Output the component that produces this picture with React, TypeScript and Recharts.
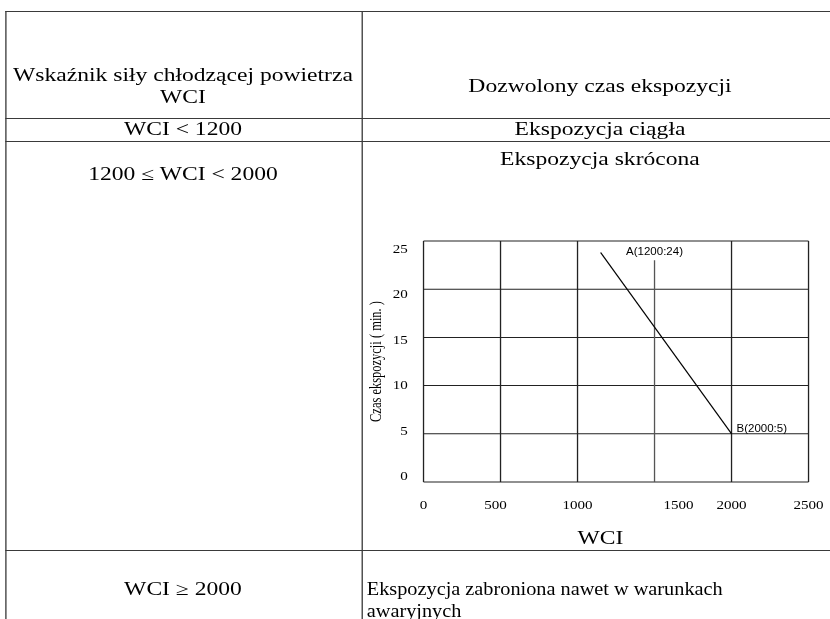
import React from 'react'
import { LineChart, Line, XAxis, YAxis, CartesianGrid, ReferenceLine, LabelList } from 'recharts'

// line A -> B
const wci = [1150, 2000]
const czas = [23.8, 5]
const pointLabels = ['', 'B(2000:5)']

const xTicks = [0, 500, 1000, 1500, 2000, 2500]
const yTicks = [0, 5, 10, 15, 20, 25]
const xGrid = [0, 500, 1000, 2000, 2500]
const markerWci = 1500
const markerTop = 23
const markerLabel = 'A(1200:24)'

const headLeft = ['Wskaźnik siły chłodzącej powietrza', 'WCI']
const headRight = 'Dozwolony czas ekspozycji'
const ranges = ['WCI < 1200', '1200 ≤ WCI < 2000', 'WCI ≥ 2000']
const exposures = ['Ekspozycja ciągła', 'Ekspozycja skrócona', 'Ekspozycja zabroniona nawet w warunkach awaryjnych']
const yTitle = 'Czas ekspozycji ( min. )'
const xTitle = 'WCI'

const data = wci.map((w, i) => ({ wci: w, czas: czas[i], label: pointLabels[i] }))

// the original picture is stretched horizontally
const SX = 1.31
const ux = (v: number) => v / SX

const SERIF = '"Liberation Serif", "Times New Roman", serif'
const SANS = '"Liberation Sans", Arial, sans-serif'
const BORDER = '#3a3a3a'

const xTickShift: Record<number, number> = { 500: -5, 1500: 24 }

const HLine = ({ y, x1, x2 }: { y: number; x1: number; x2: number }) => (
  <div style={{ position: 'absolute', left: ux(x1), top: y, width: ux(x2 - x1), borderTop: `1px solid ${BORDER}` }} />
)

const VLine = ({ x, y1, y2 }: { x: number; y1: number; y2: number }) => (
  <div style={{ position: 'absolute', left: ux(x), top: y1, height: y2 - y1, borderLeft: `1px solid ${BORDER}` }} />
)

const Cell = ({ x1, x2, top, align = 'center', squeeze = 1, children }: any) => (
  <div
    style={{
      position: 'absolute',
      left: ux(x1),
      width: ux(x2 - x1) / squeeze,
      top,
      textAlign: align,
      fontFamily: SERIF,
      fontSize: 18,
      lineHeight: '22px',
      color: '#000',
      whiteSpace: 'nowrap',
      transform: squeeze !== 1 ? `scaleX(${squeeze})` : undefined,
      transformOrigin: '0 0',
    }}
  >
    {children}
  </div>
)

const YTick = ({ x, y, payload }: any) => (
  <text x={x} y={y - 6 + 0.56 * payload.value} dy="0.35em" textAnchor="end" fontFamily={SERIF} fontSize={11.5} fill="#000">
    {payload.value}
  </text>
)

const XTick = ({ x, y, payload }: any) => (
  <text x={x + ux(xTickShift[payload.value] || 0)} y={y + 15} dy="0.35em" textAnchor="middle" fontFamily={SERIF} fontSize={11.5} fill="#000">
    {payload.value}
  </text>
)

const PointLabel = (props: any) => {
  const { value } = props
  if (!value) return null
  const x = props.x ?? props.viewBox?.x
  const y = props.y ?? props.viewBox?.y
  return (
    <g transform={`translate(${x + ux(5)},${y - 6}) scale(${1 / SX},1)`}>
      <text x={0} y={0} dy="0.35em" textAnchor="start" fontFamily={SANS} fontSize={11.5} fill="#000">
        {value}
      </text>
    </g>
  )
}

const MarkerLabel = ({ viewBox }: any) => (
  <g transform={`translate(${viewBox.x},${viewBox.y - 9}) scale(${1 / SX},1)`}>
    <text x={0} y={0} dy="0.35em" textAnchor="middle" fontFamily={SANS} fontSize={11.5} fill="#000">
      {markerLabel}
    </text>
  </g>
)

const YTitle = ({ viewBox }: any) => {
  const cx = viewBox.x + 3.4
  const cy = viewBox.y + viewBox.height / 2
  return (
    <text x={cx} y={cy} dy="0.35em" transform={`rotate(-90 ${cx} ${cy})`} textAnchor="middle" fontFamily={SERIF} fontSize={12.5} fill="#000">
      {yTitle}
    </text>
  )
}

const XTitle = ({ viewBox }: any) => (
  <text x={viewBox.x + viewBox.width / 2 - 11.9} y={viewBox.y + 56} dy="0.35em" textAnchor="middle" fontFamily={SERIF} fontSize={18} fill="#000">
    {xTitle}
  </text>
)

const App: React.FC = () => {
  const lastWords = exposures[2].split(' ')
  const lastWord = lastWords.pop()
  return (
    <div style={{ position: 'absolute', left: 0, top: 0, width: 830, height: 619, overflow: 'hidden', background: '#fff' }}>
      <div style={{ position: 'absolute', left: 0, top: 0, width: ux(900), height: 619, transform: `scaleX(${SX})`, transformOrigin: '0 0' }}>
        <HLine y={11} x1={5} x2={860} />
        <HLine y={118} x1={5} x2={860} />
        <HLine y={141} x1={5} x2={860} />
        <HLine y={550} x1={5} x2={860} />
        <VLine x={5} y1={11} y2={640} />
        <VLine x={361} y1={11} y2={640} />

        <Cell x1={5} x2={361} top={64}>
          {headLeft[0]}
          <br />
          {headLeft[1]}
        </Cell>
        <Cell x1={361} x2={839} top={75}>{headRight}</Cell>
        <Cell x1={5} x2={361} top={118}>{ranges[0]}</Cell>
        <Cell x1={361} x2={839} top={118}>{exposures[0]}</Cell>
        <Cell x1={5} x2={361} top={163}>{ranges[1]}</Cell>
        <Cell x1={361} x2={839} top={148}>{exposures[1]}</Cell>
        <Cell x1={5} x2={361} top={578}>{ranges[2]}</Cell>
        <Cell x1={367} x2={800} top={578} align="left" squeeze={0.86}>
          {lastWords.join(' ')}
          <br />
          {lastWord}
        </Cell>

        <div style={{ position: 'absolute', left: ux(361), top: 200 }}>
          <LineChart width={358} height={360} data={data} margin={{ top: 41, right: 16.8, bottom: 8, left: 7.3 }}>
            <CartesianGrid stroke="#222" horizontalValues={yTicks} verticalValues={xGrid} />
            <XAxis
              type="number"
              dataKey="wci"
              domain={[0, 2500]}
              ticks={xTicks}
              interval={0}
              axisLine={false}
              tickLine={false}
              height={70}
              tick={<XTick />}
              label={<XTitle />}
            />
            <YAxis
              type="number"
              domain={[0, 25]}
              ticks={yTicks}
              interval={0}
              width={40}
              axisLine={false}
              tickLine={false}
              tickMargin={6}
              tick={<YTick />}
              label={<YTitle />}
            />
            <ReferenceLine
              segment={[
                { x: markerWci, y: 0 },
                { x: markerWci, y: markerTop },
              ]}
              stroke="#555"
              label={<MarkerLabel />}
            />
            <Line type="linear" dataKey="czas" stroke="#000" strokeWidth={1} dot={false} isAnimationActive={false}>
              <LabelList dataKey="label" content={<PointLabel />} />
            </Line>
          </LineChart>
        </div>
      </div>
    </div>
  )
}

export default App
